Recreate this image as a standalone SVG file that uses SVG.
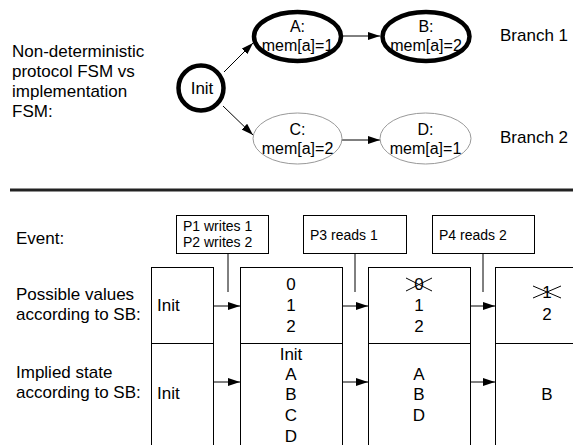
<svg xmlns="http://www.w3.org/2000/svg" width="573" height="445" viewBox="0 0 573 445">
<defs>
<style>
text{font-family:"Liberation Sans",Arial,sans-serif;fill:#000}
.lbl{font-size:17px}
.n{font-size:16px;text-anchor:middle}
.c{font-size:17px;text-anchor:middle}
.ev{font-size:14px}
.bold{fill:#fff;stroke:#000;stroke-width:4.5}
.thin{fill:#fff;stroke:#999;stroke-width:1}
.box{fill:#fff;stroke:#000;stroke-width:1}
.edge{stroke:#000;stroke-width:1;fill:none}
</style>
<marker id="ah" markerUnits="userSpaceOnUse" markerWidth="13" markerHeight="9" refX="12" refY="4" orient="auto">
<path d="M0,0 L12,4 L0,8 z" fill="#000"/>
</marker>
</defs>
<rect width="573" height="445" fill="#fff"/>

<g id="title">
<text class="lbl" x="12" y="57">Non-deterministic</text>
<text class="lbl" x="12" y="77">protocol FSM vs</text>
<text class="lbl" x="12" y="97">implementation</text>
<text class="lbl" x="12" y="117">FSM:</text>
</g>

<g id="connectors">
<line class="edge" x1="224" y1="72" x2="253" y2="43" marker-end="url(#ah)"/>
<line class="edge" x1="223" y1="106" x2="253" y2="135" marker-end="url(#ah)"/>
<line class="edge" x1="343" y1="36" x2="380" y2="36" marker-end="url(#ah)"/>
<line class="edge" x1="342" y1="140" x2="380" y2="140" marker-end="url(#ah)"/>
<line class="edge" x1="213" y1="306" x2="240" y2="306" marker-end="url(#ah)"/>
<line class="edge" x1="213" y1="382" x2="240" y2="382" marker-end="url(#ah)"/>
<line class="edge" x1="342" y1="306" x2="368" y2="306" marker-end="url(#ah)"/>
<line class="edge" x1="342" y1="382" x2="368" y2="382" marker-end="url(#ah)"/>
<line class="edge" x1="470" y1="306" x2="495" y2="306" marker-end="url(#ah)"/>
<line class="edge" x1="470" y1="382" x2="495" y2="382" marker-end="url(#ah)"/>
<line class="edge" x1="228" y1="253" x2="228" y2="292"/>
<line class="edge" x1="355" y1="253" x2="355" y2="292"/>
<line class="edge" x1="483" y1="253" x2="483" y2="292"/>
</g>

<g id="init">
<circle class="bold" cx="201" cy="88" r="22.5"/>
<text class="n" x="202" y="94" style="font-size:17px">Init</text>
</g>
<g id="stateA">
<ellipse class="bold" cx="297.5" cy="36.5" rx="43.5" ry="24.5"/>
<text class="n" x="297.5" y="32">A:</text>
<text class="n" x="297.5" y="51">mem[a]=1</text>
</g>
<g id="stateB">
<ellipse class="bold" cx="426" cy="36.5" rx="43.5" ry="24.5"/>
<text class="n" x="426" y="32">B:</text>
<text class="n" x="426" y="51">mem[a]=2</text>
</g>
<g id="stateC">
<ellipse class="thin" cx="297.5" cy="138.5" rx="44.5" ry="25.5"/>
<text class="n" x="297.5" y="135">C:</text>
<text class="n" x="297.5" y="154">mem[a]=2</text>
</g>
<g id="stateD">
<ellipse class="thin" cx="425.5" cy="138.5" rx="45.5" ry="25.5"/>
<text class="n" x="425.5" y="135">D:</text>
<text class="n" x="425.5" y="154">mem[a]=1</text>
</g>
<g id="branches">
<text class="lbl" x="500" y="41">Branch 1</text>
<text class="lbl" x="500" y="143">Branch 2</text>
</g>

<line x1="10" y1="190" x2="573" y2="190" stroke="#222" stroke-width="3"/>

<g id="rowlabels">
<text class="lbl" x="16" y="244">Event:</text>
<text class="lbl" x="16" y="300">Possible values</text>
<text class="lbl" x="16" y="320">according to SB:</text>
<text class="lbl" x="16" y="378">Implied state</text>
<text class="lbl" x="16" y="398">according to SB:</text>
</g>

<g id="event1">
<rect class="box" x="176.5" y="215.5" width="92" height="38"/>
<text class="ev" x="183" y="231">P1 writes 1</text>
<text class="ev" x="183" y="247">P2 writes 2</text>
</g>
<g id="event2">
<rect class="box" x="303.5" y="215.5" width="103" height="38"/>
<text class="ev" x="310" y="240">P3 reads 1</text>
</g>
<g id="event3">
<rect class="box" x="432.5" y="215.5" width="102" height="38"/>
<text class="ev" x="439" y="240">P4 reads 2</text>
</g>

<g id="col1">
<rect class="box" x="151.5" y="267.5" width="62" height="190"/>
<line class="edge" x1="151" y1="343.5" x2="213" y2="343.5"/>
<text class="lbl" x="157" y="311">Init</text>
<text class="lbl" x="157" y="399">Init</text>
</g>
<g id="col2">
<rect class="box" x="240.5" y="267.5" width="102" height="190"/>
<line class="edge" x1="240" y1="343.5" x2="342" y2="343.5"/>
<text class="c" x="291" y="290">0</text>
<text class="c" x="291" y="311">1</text>
<text class="c" x="291" y="332">2</text>
<text class="c" x="291" y="360">Init</text>
<text class="c" x="291" y="380">A</text>
<text class="c" x="291" y="400">B</text>
<text class="c" x="291" y="421">C</text>
<text class="c" x="291" y="442">D</text>
</g>
<g id="col3">
<rect class="box" x="368.5" y="267.5" width="102" height="190"/>
<line class="edge" x1="368" y1="343.5" x2="470" y2="343.5"/>
<text class="c" x="419" y="290">0</text>
<line class="edge" x1="406" y1="278" x2="432" y2="291"/>
<line class="edge" x1="406" y1="291" x2="432" y2="278"/>
<text class="c" x="419" y="311">1</text>
<text class="c" x="419" y="332">2</text>
<text class="c" x="419" y="380">A</text>
<text class="c" x="419" y="400">B</text>
<text class="c" x="419" y="421">D</text>
</g>
<g id="col4">
<rect class="box" x="495.5" y="267.5" width="110" height="190"/>
<line class="edge" x1="495" y1="343.5" x2="573" y2="343.5"/>
<text class="c" x="547" y="298">1</text>
<line class="edge" x1="533" y1="286" x2="561" y2="298"/>
<line class="edge" x1="533" y1="298" x2="561" y2="286"/>
<text class="c" x="547" y="320">2</text>
<text class="c" x="547" y="400">B</text>
</g>
</svg>
